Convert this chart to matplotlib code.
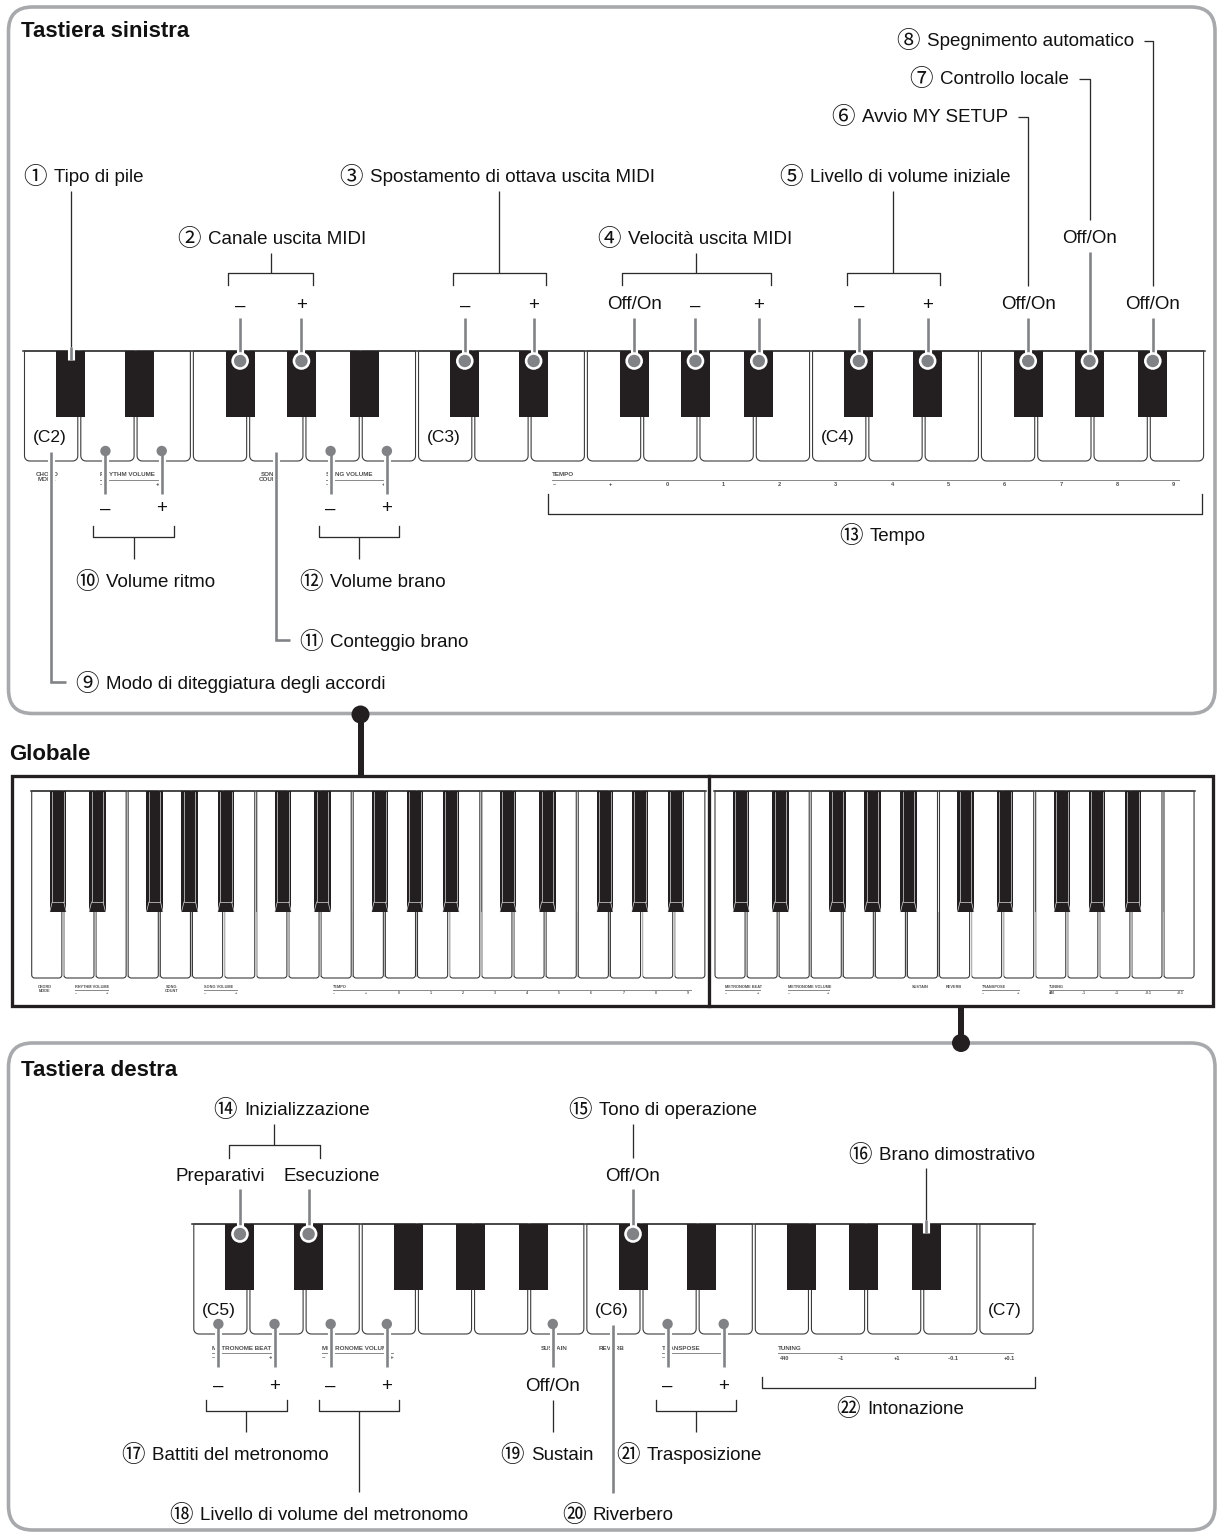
import matplotlib.pyplot as plt
import matplotlib.patheffects as pe
from matplotlib.patches import FancyBboxPatch, Rectangle, Circle, Polygon
import numpy as np

plt.rcParams['font.family'] = ['Liberation Sans', 'DejaVu Sans']

PT = 0.72            # points per pixel at dpi 100
GRAY = '#808285'
INK = '#231f20'
LINE = '#2b2b2b'
PANEL = '#a7a9ac'
CIRC_FONT = ['Noto Sans CJK JP', 'DejaVu Sans']

# ---------------- content ----------------
titles = ['Tastiera sinistra', 'Globale', 'Tastiera destra']
top_octaves = ['(C2)', '(C3)', '(C4)']
bot_octaves = ['(C5)', '(C6)', '(C7)']

black_names = ['C#', 'D#', 'F#', 'G#', 'A#']
black_after = [1, 2, 4, 5, 6]          # white key right of each black key
black_shift = [-8.5, 4.0, -8.0, -3.0, 4.0]

tempo_vals = ['–', '+', '0', '1', '2', '3', '4', '5', '6', '7', '8', '9']
tempo_keys = list(range(9, 21))
tuning_vals = ['440', '–1', '+1', '–0.1', '+0.1']
tuning_keys = [10, 11, 12, 13, 14]

left_marks = [('stack', 'CHORD\nMODE', 47, 0), ('range', 'RHYTHM VOLUME', 100, 159),
              ('stack', 'SONG\nCOUNT', 270, 0), ('range', 'SONG VOLUME', 326, 385)]
right_marks = [('range', 'METRONOME BEAT', 212, 272), ('range', 'METRONOME VOLUME', 322, 393),
               ('stack', 'SUSTAIN', 554, 0), ('stack', 'REVERB', 612, 0),
               ('range', 'TRANSPOSE', 662, 726)]

# left keyboard callouts
top_groups = [('②', 'Canale uscita MIDI', 178, 237, [(0, 'F#'), (0, 'G#')], ['–', '+']),
              ('③', 'Spostamento di ottava uscita MIDI', 340, 175, [(1, 'C#'), (1, 'D#')], ['–', '+']),
              ('④', 'Velocità uscita MIDI', 598, 237, [(1, 'F#'), (1, 'G#'), (1, 'A#')], ['Off/On', '–', '+']),
              ('⑤', 'Livello di volume iniziale', 780, 175, [(2, 'C#'), (2, 'D#')], ['–', '+'])]
top_switches = [('⑥', 'Avvio MY SETUP', 832, 115, (2, 'F#'), 302),
                ('⑦', 'Controllo locale', 910, 77, (2, 'G#'), 236),
                ('⑧', 'Spegnimento automatico', 897, 39, (2, 'A#'), 302)]
top_white = [('⑩', 'Volume ritmo', 76, 580, [1, 2]),
             ('⑫', 'Volume brano', 300, 580, [5, 6])]
top_elbow = [('⑨', 'Modo di diteggiatura degli accordi', 76, 682, 0),
             ('⑪', 'Conteggio brano', 300, 640, 4)]

# right keyboard callouts
bot_white = [('⑰', 'Battiti del metronomo', 122, 1453, [0, 1], 1432),
             ('⑱', 'Livello di volume del metronomo', 170, 1513, [2, 3], 1492),
             ('㉑', 'Trasposizione', 617, 1453, [8, 9], 1432)]

# ---------------- keyboard geometry ----------------
top_kb = dict(x0=23, w=56.29, n=21, top=351, bot=461, bbot=417, bw=29, gap=3, r=5)
bot_kb = dict(x0=192.3, w=56.15, n=15, top=1224, bot=1334, bbot=1290, bw=29, gap=3, r=5)
gl_kb = dict(x0=30.7, w=32.15, n=21, top=791, bot=978, bbot=912, bw=16.5, gap=2, r=3)
gr_kb = dict(x0=714, w=32.07, n=15, top=791, bot=978, bbot=912, bw=16.5, gap=2, r=3)

fig = plt.figure(figsize=(12.22, 15.37), dpi=100)
ax = fig.add_axes([0, 0, 1, 1])
ax.set_xlim(0, 1222)
ax.set_ylim(1537, 0)
ax.axis('off')


def wx(kb, i):
    return kb['x0'] + kb['w'] * (i + 0.5)


def bx(kb, octave, name):
    j = black_names.index(name)
    return kb['x0'] + kb['w'] * (7 * octave + black_after[j]) + black_shift[j] * kb['w'] / 56.2


def key_shape(x0, x1, y0, y1, r):
    pts = [(x0, y0)]
    for t in np.linspace(np.pi, np.pi / 2, 6):
        pts.append((x0 + r + r * np.cos(t), y1 - r + r * np.sin(t)))
    for t in np.linspace(np.pi / 2, 0, 6):
        pts.append((x1 - r + r * np.cos(t), y1 - r + r * np.sin(t)))
    pts.append((x1, y0))
    return pts


def keyboard(kb, fancy=False):
    x0, w, n = kb['x0'], kb['w'], kb['n']
    for i in range(n):
        a = x0 + i * w + kb['gap'] / 2
        b = x0 + (i + 1) * w - kb['gap'] / 2
        ax.add_patch(Polygon(key_shape(a, b, kb['top'], kb['bot'], kb['r']), closed=True,
                             fc='white', ec='#3a3a3a', lw=1.1 * PT, zorder=2))
        if fancy and i > 0:
            ax.plot([x0 + i * w] * 2, [kb['bbot'], kb['bot'] - 2], color='#b5b5b5', lw=1.0 * PT, zorder=2)
    ax.plot([x0, x0 + n * w], [kb['top']] * 2, color='#3a3a3a', lw=1.6 * PT, zorder=3)
    bw = kb['bw']
    for o in range(n // 7):
        for name in black_names:
            c = bx(kb, o, name)
            ax.add_patch(Rectangle((c - bw / 2, kb['top']), bw, kb['bbot'] - kb['top'],
                                   fc=INK, ec='none', zorder=3))
            if fancy:
                yb, yh = kb['bbot'], kb['bbot'] - 10
                l, rr = c - bw / 2, c + bw / 2
                ax.plot([l + 2.5, l + 2.5, rr - 2.5, rr - 2.5], [kb['top'] + 1, yh, yh, kb['top'] + 1],
                        color='#d8d8d8', lw=0.7 * PT, zorder=4)
                ax.plot([l, l + 2.5], [yb, yh], color='#d8d8d8', lw=0.7 * PT, zorder=4)
                ax.plot([rr, rr - 2.5], [yb, yh], color='#d8d8d8', lw=0.7 * PT, zorder=4)


def key_marks(marks, fx, ybot, d_text, d_line, d_sign, fs):
    for kind, s, x1, x2 in marks:
        if kind == 'stack':
            ax.text(fx(x1), ybot + d_text, s, ha='center', va='top', fontsize=fs, weight='bold',
                    color='#4d4d4d', linespacing=1.0, zorder=4)
        else:
            ax.text(fx(x1), ybot + d_text, s, ha='left', va='top', fontsize=fs, weight='bold',
                    color='#4d4d4d', zorder=4)
            ax.plot([fx(x1), fx(x2)], [ybot + d_line] * 2, color='#8a8a8a', lw=1.0 * PT, zorder=4)
            ax.text(fx(x1), ybot + d_sign, '–', ha='left', va='top', fontsize=fs, weight='bold',
                    color='#4d4d4d', zorder=4)
            ax.text(fx(x2), ybot + d_sign, '+', ha='right', va='top', fontsize=fs, weight='bold',
                    color='#4d4d4d', zorder=4)


def key_scale(title, vals, xs, x1, x2, ybot, d_text, d_line, d_sign, fs):
    ax.text(x1, ybot + d_text, title, ha='left', va='top', fontsize=fs, weight='bold', color='#4d4d4d', zorder=4)
    ax.plot([x1, x2], [ybot + d_line] * 2, color='#8a8a8a', lw=1.0 * PT, zorder=4)
    for v, x in zip(vals, xs):
        ax.text(x, ybot + d_sign, v, ha='center', va='top', fontsize=fs * 0.9, weight='bold',
                color='#4d4d4d', zorder=4)


def txt(x, y, s, size=13.5, ha='left', **kw):
    return ax.text(x, y + 0.506 * size, s, ha=ha, va='baseline', fontsize=size, color='#111111',
                   zorder=9, **kw)


def callout(x, y, num, s):
    ax.text(x - 1, y + 0.38 * 17 * 1.389, num, family=CIRC_FONT, fontsize=17, ha='left', va='baseline',
            color='#111111', zorder=9)
    return txt(x + 30, y, s)


def thin(xs, ys):
    ax.plot(xs, ys, color=LINE, lw=1.3 * PT, zorder=6, solid_capstyle='butt')


def gline(xs, ys, lw=2.6):
    ax.plot(xs, ys, color=GRAY, lw=lw * PT, zorder=6, solid_capstyle='butt', solid_joinstyle='miter',
            path_effects=[pe.Stroke(linewidth=(lw + 4.5) * PT, foreground='white'), pe.Normal()])


def bdot(x, y):
    ax.add_patch(Circle((x, y), 8.8, fc='white', ec='none', zorder=7))
    ax.add_patch(Circle((x, y), 6.2, fc=GRAY, ec='none', zorder=8))


def wdot(x, y):
    ax.add_patch(Circle((x, y), 5.2, fc=GRAY, ec='none', zorder=8))


def bracket(x1, x2, y, tick, stem_x=None, stem_to=None):
    ax.plot([x1, x1, x2, x2], [y + tick, y, y, y + tick], color=LINE, lw=1.3 * PT, zorder=6)
    if stem_to is not None:
        thin([stem_x, stem_x], [y, stem_to])


def text_end(t):
    bb = t.get_window_extent(renderer=fig.canvas.get_renderer())
    return bb.x1


# ---------------- panels and connectors ----------------
ax.add_patch(FancyBboxPatch((8.5, 7), 1206.5, 706.5, boxstyle='round,pad=0,rounding_size=24',
                            fc='white', ec=PANEL, lw=3.6 * PT, zorder=0))
ax.add_patch(FancyBboxPatch((8.5, 1043), 1206.5, 487, boxstyle='round,pad=0,rounding_size=24',
                            fc='white', ec=PANEL, lw=3.6 * PT, zorder=0))
ax.add_patch(Rectangle((12.3, 775.7), 1200.7, 230.5, fill=False, ec=INK, lw=3.3 * PT, zorder=5))
ax.plot([709.3, 709.3], [775.7, 1006.2], color=INK, lw=3.3 * PT, zorder=5)
ax.plot([360.5, 360.5], [714, 776], color=INK, lw=6 * PT, zorder=10, solid_capstyle='butt')
ax.add_patch(Circle((360.5, 714.5), 9, fc=INK, ec='none', zorder=11))
ax.plot([961, 961], [1006, 1043], color=INK, lw=6 * PT, zorder=10, solid_capstyle='butt')
ax.add_patch(Circle((961, 1043), 9, fc=INK, ec='none', zorder=11))

for t, (x, y) in zip(titles, [(21, 29), (9, 752), (21, 1068)]):
    ax.text(x, y + 0.506 * 16, t, fontsize=16, weight='bold', ha='left', va='baseline', color='#111111')

# ---------------- keyboards ----------------
for kb in (top_kb, bot_kb):
    keyboard(kb)
for kb in (gl_kb, gr_kb):
    keyboard(kb, fancy=True)

for i, s in enumerate(top_octaves):
    txt(wx(top_kb, 7 * i) - 1.5, 436, s, size=12.5, ha='center')
for i, s in enumerate(bot_octaves):
    txt(wx(bot_kb, 7 * i) - 1.5, 1309, s, size=12.5, ha='center')

# key face prints
key_marks(left_marks, lambda x: x, top_kb['bot'], 11, 18.5, 21, 4.5)
key_marks(right_marks, lambda x: x, bot_kb['bot'], 12, 19.3, 21, 4.5)
key_scale('TEMPO', tempo_vals, [wx(top_kb, k) - 3.5 for k in tempo_keys], 552, 1179,
          top_kb['bot'], 11, 18.5, 21.5, 4.5)
key_scale('TUNING', tuning_vals, [wx(bot_kb, k) + 3 for k in tuning_keys], 778, 1013,
          bot_kb['bot'], 12, 19.3, 21.5, 4.5)

sl = 32.15 / 56.29
sr = 32.07 / 56.15
fl = lambda x: 30.7 + (x - 23) * sl
fr = lambda x: 714 + (x - 192.3) * sr
key_marks(left_marks, fl, gl_kb['bot'], 7, 11.8, 13, 2.8)
key_marks(right_marks, fr, gr_kb['bot'], 7, 11.8, 13, 2.8)
key_scale('TEMPO', tempo_vals, [wx(gl_kb, k) - 2 for k in tempo_keys], fl(552), fl(1179),
          gl_kb['bot'], 7, 11.8, 13, 2.8)
key_scale('TUNING', tuning_vals, [wx(gr_kb, k) + 1.5 for k in tuning_keys], fr(778), fr(1013),
          gr_kb['bot'], 7, 11.8, 13, 2.8)

# ---------------- left keyboard callouts ----------------
kx = bx(top_kb, 0, 'C#')
callout(24, 175, '①', 'Tipo di pile')
thin([kx, kx], [191, 349])
gline([kx, kx], [347, 360])

for num, s, x, y, keys, signs in top_groups:
    callout(x, y, num, s)
    xs = [bx(top_kb, o, n) for o, n in keys]
    bracket(xs[0] - 12, xs[-1] + 12, 273, 12, (xs[0] + xs[-1]) / 2, y + 16)
    for k, sg in zip(xs, signs):
        txt(k, 303.5 if sg != 'Off/On' else 302, sg, ha='center')
        gline([k, k], [318, 361])
        bdot(k, 361)

for num, s, x, y, key, oy in top_switches:
    t = callout(x, y, num, s)
    k = bx(top_kb, *key)
    e = text_end(t) + 10
    thin([e, k, k], [y + 2, y + 2, oy - 16])
    txt(k, oy, 'Off/On', ha='center')
    gline([k, k], [oy + 16, 361])
    bdot(k, 361)

for num, s, x, y, keys in top_white:
    callout(x, y, num, s)
    xs = [wx(top_kb, k) - 2 for k in keys]
    for k, sg in zip(xs, ['–', '+']):
        wdot(k, 451)
        gline([k, k], [451, 494])
        txt(k, 506.5, sg, ha='center')
    bracket(xs[0] - 12, xs[-1] + 12, 537, -11, (xs[0] + xs[-1]) / 2, 559)

for num, s, x, y, key in top_elbow:
    callout(x, y, num, s)
    k = wx(top_kb, key) - 0.5
    gline([k, k, x - 10], [452, y, y])

bracket(wx(top_kb, 9) - 10, top_kb['x0'] + top_kb['n'] * top_kb['w'] - 3, 514, -20)
callout(840, 534, '⑬', 'Tempo')

# ---------------- right keyboard callouts ----------------
callout(214, 1108, '⑭', 'Inizializzazione')
xs = [bx(bot_kb, 0, 'C#'), bx(bot_kb, 0, 'D#')]
bracket(xs[0] - 11, xs[1] + 11, 1145, 13, (xs[0] + xs[1]) / 2, 1124)
for k, s, dx in zip(xs, ['Preparativi', 'Esecuzione'], [-19.5, 23.5]):
    txt(k + dx, 1174, s, ha='center')
    gline([k, k], [1189, 1234])
    bdot(k, 1234)

callout(569, 1108, '⑮', 'Tono di operazione')
k = bx(bot_kb, 1, 'C#')
thin([k, k], [1124, 1158])
txt(k, 1174, 'Off/On', ha='center')
gline([k, k], [1189, 1234])
bdot(k, 1234)

callout(849, 1153, '⑯', 'Brano dimostrativo')
k = bx(bot_kb, 1, 'A#')
thin([k, k], [1168, 1222])
gline([k, k], [1220, 1233])

for num, s, x, y, keys, stem in bot_white:
    callout(x, y, num, s)
    xs = [wx(bot_kb, k) - 2 for k in keys]
    for k, sg in zip(xs, ['–', '+']):
        wdot(k, 1324)
        gline([k, k], [1324, 1367])
        txt(k, 1384, sg, ha='center')
    bracket(xs[0] - 12, xs[-1] + 12, 1411, -11, (xs[0] + xs[-1]) / 2, stem)

callout(501, 1453, '⑲', 'Sustain')
k = wx(bot_kb, 6) - 4.5
wdot(k, 1324)
gline([k, k], [1324, 1367])
txt(k, 1384, 'Off/On', ha='center')
thin([k, k], [1400, 1432])

callout(563, 1513, '⑳', 'Riverbero')
k = wx(bot_kb, 7) - 0.7
gline([k, k], [1325, 1493])

bracket(wx(bot_kb, 10) - 20, bot_kb['x0'] + bot_kb['n'] * bot_kb['w'], 1388, -11)
callout(837, 1407, '㉒', 'Intonazione')

fig.savefig('out.png', dpi=100)
